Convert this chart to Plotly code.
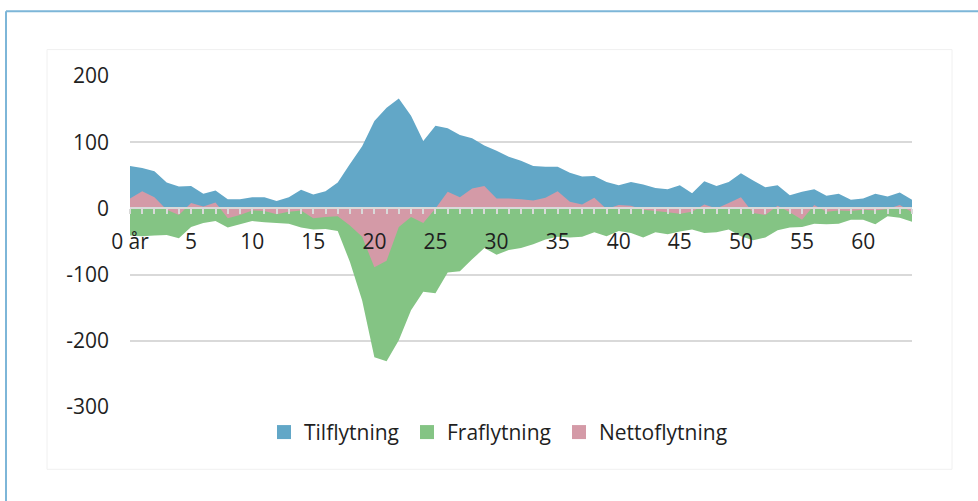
import plotly.graph_objects as go

ages = list(range(65))
x_tick_labels = ["0 år" if a == 0 else (str(a) if a % 5 == 0 else "") for a in ages]

tilflytning = [64, 61, 56, 39, 33, 34, 22, 27, 14, 14, 17, 17, 11, 17, 28, 21, 26, 39, 67, 94,
               132, 152, 166, 140, 102, 125, 121, 111, 106, 95, 87, 78, 72, 64, 63, 63, 54, 48, 49, 40,
               35, 40, 36, 31, 29, 35, 23, 41, 34, 40, 53, 42, 32, 35, 20, 25, 29, 19, 22, 13,
               15, 22, 18, 24, 13]
fraflytning = [-41, -42, -41, -40, -45, -28, -22, -19, -29, -24, -19, -21, -22, -23, -29, -32, -31, -34, -81, -139,
               -225, -231, -199, -154, -126, -128, -97, -95, -77, -60, -70, -63, -60, -54, -47, -43, -44, -43, -36, -42,
               -34, -37, -44, -36, -39, -35, -32, -37, -36, -32, -42, -48, -44, -33, -29, -28, -23, -24, -23, -17,
               -17, -24, -12, -14, -20]
nettoflytning = [15, 26, 17, -2, -10, 8, 3, 9, -15, -10, -3, -4, -9, -5, -3, -15, -13, -12, -26, -43,
                 -89, -79, -28, -13, -22, 0, 25, 17, 30, 34, 15, 15, 14, 12, 16, 26, 10, 6, 16, -1,
                 5, 4, -2, -4, -6, -8, -5, 6, 0, 8, 17, -7, -10, 4, -6, -17, 5, -5, -3, -4,
                 -2, -3, -1, 5, -6]

y_tick_vals = [-300, -200, -100, 0, 100, 200]
y_tick_labels = ["-300", "-200", "-100", "0", "100", "200"]

series_names = ["Tilflytning", "Fraflytning", "Nettoflytning"]
series_colors = ["#62A7C7", "#84C484", "#D49AA7"]
series_values = [tilflytning, fraflytning, nettoflytning]

FONT = "Open Sans"
FS = 21
TXT = "#1f1f1f"
W, H = 978, 501
L, R, T, B = 130, 912, 75.5, 407.5

def px_x(p):
    return (p - L) / (R - L)

def px_y(p):
    return (B - p) / (B - T)

legend_ids = ["legend", "legend2", "legend3"]
legend_left_px = [264, 407, 559]

fig = go.Figure()
for name, col, vals in zip(series_names, series_colors, series_values):
    fig.add_trace(go.Scatter(x=ages, y=vals, mode="none", fill="tozeroy",
                             fillcolor=col, name=name, showlegend=False, hoverinfo="x+y"))
for name, col, lg in zip(series_names, series_colors, legend_ids):
    fig.add_trace(go.Scatter(x=[None], y=[None], mode="markers", name=name, legend=lg,
                             marker=dict(symbol="square", size=14, color=col, line=dict(width=0))))

legend_style = dict(orientation="h", xanchor="left", y=px_y(433), yanchor="middle",
                    font=dict(family=FONT, size=FS, color=TXT),
                    bgcolor="rgba(0,0,0,0)", itemclick=False, itemdoubleclick=False)
legends = {lg: dict(legend_style, x=px_x(lx)) for lg, lx in zip(legend_ids, legend_left_px)}

fig.update_layout(
    width=W, height=H, autosize=False,
    margin=dict(l=L, r=W - R, t=T, b=H - B, pad=0),
    paper_bgcolor="white", plot_bgcolor="white",
    font=dict(family=FONT, size=FS, color=TXT),
    xaxis=dict(range=[0, 64], anchor="free", position=0.6,
               tickmode="array", tickvals=ages, ticktext=x_tick_labels,
               ticks="outside", ticklen=5, tickwidth=2, tickcolor="#d9d9d9",
               showline=True, linecolor="#d9d9d9", linewidth=2,
               showgrid=False, zeroline=False, ticklabelstandoff=9,
               tickfont=dict(family=FONT, size=FS, color=TXT)),
    yaxis=dict(range=[-300, 200], tickmode="array", tickvals=y_tick_vals, ticktext=y_tick_labels,
               showgrid=True, gridcolor="#d9d9d9", gridwidth=2, zeroline=False,
               showline=False, ticks="", ticklabelstandoff=20,
               tickfont=dict(family=FONT, size=FS, color=TXT)),
    shapes=[
        dict(type="rect", xref="paper", yref="paper", x0=px_x(47), x1=px_x(952), y0=px_y(470), y1=px_y(49),
             line=dict(color="#f0f0f0", width=1), fillcolor="rgba(0,0,0,0)", layer="below"),
        dict(type="line", xref="paper", yref="paper", x0=px_x(6), x1=px_x(990), y0=px_y(10.5), y1=px_y(10.5),
             line=dict(color="#7DB6D8", width=2)),
        dict(type="line", xref="paper", yref="paper", x0=px_x(6), x1=px_x(6), y0=px_y(10.5), y1=px_y(520),
             line=dict(color="#7DB6D8", width=2)),
    ],
    **legends,
)

fig.write_html("out.html", config={"displayModeBar": False},
               post_script="document.body.style.margin='0';")
